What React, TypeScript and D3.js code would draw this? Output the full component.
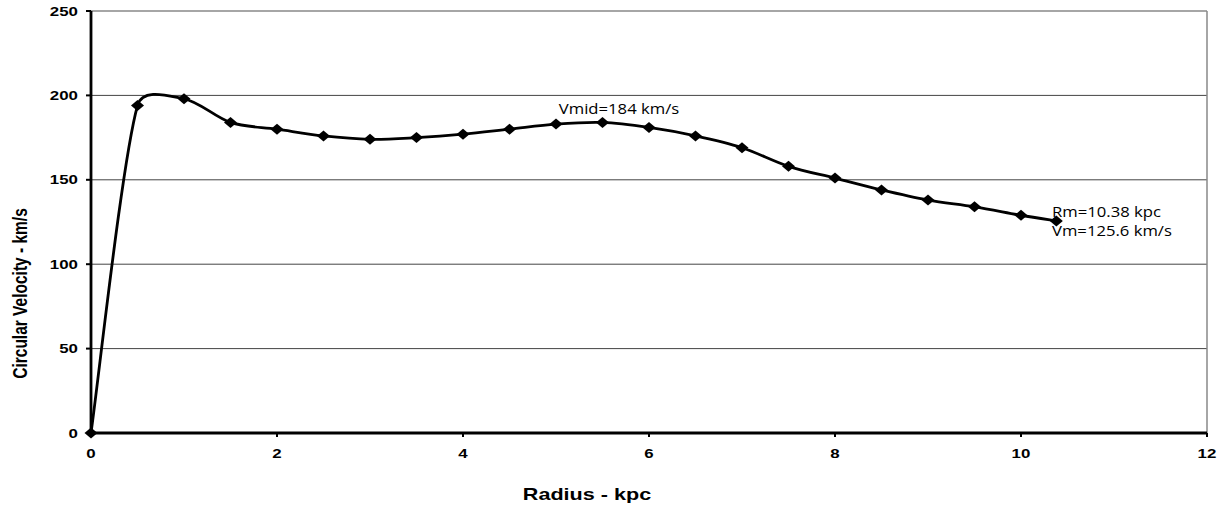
import React from "react";
import * as d3 from "d3";

const radius = [0, 0.5, 1, 1.5, 2, 2.5, 3, 3.5, 4, 4.5, 5, 5.5, 6, 6.5, 7, 7.5, 8, 8.5, 9, 9.5, 10, 10.38];
const velocity = [0, 194, 198, 184, 180, 176, 174, 175, 177, 180, 183, 184, 181, 176, 169, 158, 151, 144, 138, 134, 129, 125.6];
const xTicks = [0, 2, 4, 6, 8, 10, 12];
const yTicks = [0, 50, 100, 150, 200, 250];
const xTitle = "Radius - kpc";
const yTitle = "Circular Velocity - km/s";
const midNote = "Vmid=184 km/s";
const endNote = ["Rm=10.38 kpc", "Vm=125.6 km/s"];

type P = [number, number];
function excelSmooth(p: P[]): string {
  const path = d3.path();
  path.moveTo(p[0][0], p[0][1]);
  const dist = (a: P, b: P) => Math.hypot(a[0] - b[0], a[1] - b[1]);
  for (let i = 0; i < p.length - 1; i++) {
    const p0 = p[i - 1] ?? p[i];
    const p1 = p[i];
    const p2 = p[i + 1];
    const p3 = p[i + 2] ?? p[i + 1];
    const d12 = dist(p1, p2);
    const d02 = dist(p0, p2);
    const d13 = dist(p1, p3);
    const f1 = d02 > 0 ? Math.min(1 / 6, (0.4 * d12) / d02) : 0;
    const f2 = d13 > 0 ? Math.min(1 / 6, (0.4 * d12) / d13) : 0;
    path.bezierCurveTo(
      p1[0] + (p2[0] - p0[0]) * f1, p1[1] + (p2[1] - p0[1]) * f1,
      p2[0] - (p3[0] - p1[0]) * f2, p2[1] - (p3[1] - p1[1]) * f2,
      p2[0], p2[1]
    );
  }
  return path.toString();
}

export default function App() {
  const W = 1223, H = 506;
  const x = d3.scaleLinear().domain([0, 12]).range([91, 1207]);
  const y = d3.scaleLinear().domain([0, 250]).range([433, 11]);
  const pts: P[] = radius.map((r, i) => [x(r), y(velocity[i])]);
  const line = excelSmooth(pts);
  const bold = "Arial, 'Liberation Sans', sans-serif";
  const light = "'Open Sans', 'Noto Sans', sans-serif";
  const SX = 1.35;
  return (
    <svg width={W} height={H} style={{ position: "absolute", left: 0, top: 0, background: "#fff" }}>
      {yTicks.filter(t => t > 0 && t < 250).map(t => (
        <line key={t} x1={x(0)} x2={x(12)} y1={y(t)} y2={y(t)} stroke="#444" strokeWidth={1} />
      ))}
      <line x1={x(0)} x2={x(12)} y1={y(250)} y2={y(250)} stroke="#888" strokeWidth={1.5} />
      <line x1={x(12)} x2={x(12)} y1={y(250)} y2={y(0)} stroke="#888" strokeWidth={1.5} />
      <line x1={x(0)} x2={x(0)} y1={y(250)} y2={y(0)} stroke="#000" strokeWidth={2.8} />
      <line x1={x(0)} x2={x(12)} y1={y(0)} y2={y(0)} stroke="#000" strokeWidth={2.8} />
      {yTicks.map(t => (
        <g key={t}>
          <line x1={x(0) - 5} x2={x(0)} y1={y(t)} y2={y(t)} stroke="#000" strokeWidth={2} />
          <text transform={`translate(${x(0) - 13} ${y(t) + 4.5}) scale(${SX} 1)`} textAnchor="end" fontFamily={bold} fontWeight="bold" fontSize={12.5}>{t}</text>
        </g>
      ))}
      {xTicks.map(t => (
        <g key={t}>
          <line x1={x(t)} x2={x(t)} y1={y(0)} y2={y(0) + 4} stroke="#000" strokeWidth={2} />
          <text transform={`translate(${x(t)} 458) scale(${SX} 1)`} textAnchor="middle" fontFamily={bold} fontWeight="bold" fontSize={12.5}>{t}</text>
        </g>
      ))}
      <path d={line} fill="none" stroke="#000" strokeWidth={2.8} />
      {pts.map(([px, py], i) => (
        <path key={i} d={`M${px - 6.5},${py} L${px},${py - 5.5} L${px + 6.5},${py} L${px},${py + 5.5} Z`} fill="#000" />
      ))}
      <text transform={`translate(587 500) scale(${SX} 1)`} textAnchor="middle" fontFamily={bold} fontWeight="bold" fontSize={16}>{xTitle}</text>
      <text transform={`translate(27 293.5) rotate(-90) scale(1 ${SX})`} textAnchor="middle" fontFamily={bold} fontWeight="bold" fontSize={15.5}>{yTitle}</text>
      <text transform={`translate(619 114.3) scale(1.15 1)`} textAnchor="middle" fontFamily={light} fontSize={14.5}>{midNote}</text>
      <text transform={`translate(1052 217.3) scale(1.15 1)`} fontFamily={light} fontSize={14.5}>{endNote[0]}</text>
      <text transform={`translate(1052 235.7) scale(1.15 1)`} fontFamily={light} fontSize={14.5}>{endNote[1]}</text>
    </svg>
  );
}
